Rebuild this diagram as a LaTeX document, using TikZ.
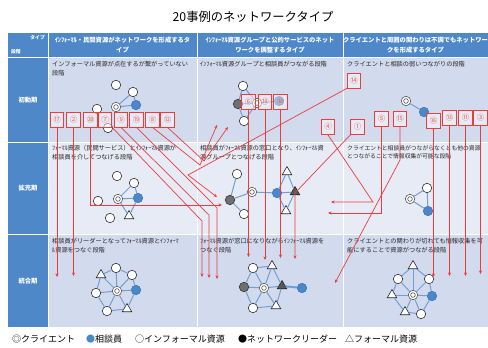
\documentclass[tikz,border=0pt]{standalone}
\usepackage{fontspec}
\setmainfont{Noto Sans CJK JP}
\usetikzlibrary{arrows.meta,shapes.geometric}
\definecolor{hdr}{HTML}{4F88C8}
\definecolor{rowA}{HTML}{D2DBEE}
\definecolor{rowB}{HTML}{E7EBF5}
\definecolor{edgeblue}{HTML}{6E9FD8}
\definecolor{cblue}{HTML}{4A88CC}
\definecolor{rline}{HTML}{EE3B3B}
\definecolor{ldr}{HTML}{707070}
\newcommand\cellf{\fontsize{6.2}{8.8}\selectfont}
\newcommand\hdrf{\fontsize{6.3}{9.5}\selectfont\bfseries}
\newcommand\legf{\fontsize{9}{10}\selectfont}
\tikzset{
 inf/.style={circle,draw=black!80,fill=white,line width=0.6pt,minimum size=9.5pt,inner sep=0pt},
 cli/.style={circle,draw=black!65,fill=white,line width=0.6pt,minimum size=9.5pt,inner sep=0pt,
   path picture={\draw[black!65,line width=0.6pt] (path picture bounding box.center) circle (2.3pt);}},
 csl/.style={circle,draw=cblue!80!black,fill=cblue,line width=0.5pt,minimum size=9.5pt,inner sep=0pt},
 ldrn/.style={circle,draw=black!80,fill=ldr,line width=0.6pt,minimum size=9.5pt,inner sep=0pt},
 frm/.style={regular polygon,regular polygon sides=3,draw=black!85,fill=white,line width=0.6pt,minimum size=11pt,inner sep=0pt},
 frmd/.style={frm,fill=black!65},
 eb/.style={draw=edgeblue,line width=1pt},
 ebt/.style={draw=edgeblue,line width=2pt},
 rbox/.style={draw=rline,line width=0.8pt,minimum width=13.5pt,minimum height=15pt,inner sep=0pt,
   fill=white,fill opacity=0.45,text opacity=1,text=rline!85,font=\fontsize{7.5}{8}\selectfont},
 ra/.style={draw=rline,line width=0.7pt,-{Stealth[length=3.5pt,width=3pt]}},
 cellt/.style={anchor=north west,align=left,font=\cellf,text=black!85,inner sep=0pt},
 hdrt/.style={align=center,font=\hdrf,text=white,inner sep=0pt},
 stg/.style={font=\fontsize{6.3}{7}\selectfont\bfseries,text=white,inner sep=0pt}
}
\begin{document}
\begin{tikzpicture}[x=1pt,y=-1pt]
\useasboundingbox (0,0) rectangle (488,348);
\fill[white] (0,0) rectangle (488,348);
% title
\node[font=\fontsize{12.3}{13}\selectfont,inner sep=0pt] (title) at (253,17) {20事例のネットワークタイプ};
% table fills
\fill[hdr] (8,33) rectangle (488,57);
\fill[hdr] (8,57) rectangle (48,327);
\fill[rowA] (48,57) rectangle (488,142);
\fill[rowB] (48,142) rectangle (488,234);
\fill[rowA] (48,234) rectangle (488,327);
\foreach \xx in {48,197,343} {\draw[white,line width=1pt] (\xx,33) -- (\xx,327);}
\foreach \yy in {57,142,234} {\draw[white,line width=1pt] (8,\yy) -- (488,\yy);}
% header texts
\node[font=\fontsize{4.8}{5}\selectfont\bfseries,text=white,anchor=east,inner sep=0pt] (h0a) at (45,38) {タイプ};
\node[font=\fontsize{4.8}{5}\selectfont\bfseries,text=white,anchor=west,inner sep=0pt] (h0b) at (11,52) {段階};
\node[hdrt] (h1) at (122.5,45) {ｲﾝﾌｫｰﾏﾙ・民間資源がネットワークを形成するタ\\イプ};
\node[hdrt] (h2) at (270,45) {ｲﾝﾌｫｰﾏﾙ資源グループと公的サービスのネット\\ワークを調整するタイプ};
\node[hdrt] (h3) at (415.5,45) {クライエントと周囲の関わりは不調でもネットワー\\クを形成するタイプ};
% stage labels
\node[stg] (s1) at (28,100) {初動期};
\node[stg] (s2) at (28,188) {拡充期};
\node[stg] (s3) at (28,281) {統合期};
% cell texts
\node[cellt] (t11) at (52,61) {インフォーマル資源が点在するが繋がっていない\\段階};
\node[cellt] (t12) at (200,61) {ｲﾝﾌｫｰﾏﾙ資源グループと相談員がつながる段階};
\node[cellt] (t13) at (347,61) {クライエントと相談の弱いつながりの段階};
\node[cellt] (t21) at (52,145) {ﾌｫｰﾏﾙ資源（民間サービス）とｲﾝﾌｫｰﾏﾙ資源が\\相談員を介してつなげる段階};
\node[cellt] (t22) at (200,145) {相談員がﾌｫｰﾏﾙ資源の窓口となり、ｲﾝﾌｫｰﾏﾙ資\\源グループとつなげる段階};
\node[cellt,font=\fontsize{5.8}{8.8}\selectfont] (t23) at (347,145) {クライエントと相談員がつながらなくとも他の資源\\とつながることで情報収集が可能な段階};
\node[cellt] (t31) at (52,238) {相談員がリーダーとなってﾌｫｰﾏﾙ資源とｲﾝﾌｫｰﾏ\\ﾙ資源をつなぐ段階};
\node[cellt] (t32) at (200,238) {ﾌｫｰﾏﾙ資源が窓口になりながらｲﾝﾌｫｰﾏﾙ資源を\\つなぐ段階};
\node[cellt] (t33) at (347,238) {クライエントとの関わりが切れても情報収集を可\\能にすることで資源がつながる段階};
% ---- networks ----
% R1C1
\node[inf] (a1) at (116,85) {};
\node[inf] (a2) at (133,92) {};
\node[cli] (a3) at (116,107) {};
\node[csl] (a4) at (136,105) {};
\node[inf] (a5) at (97,109) {};
\node[inf] (a6) at (108,128) {};
\draw[eb] (a2) -- (a3); \draw[eb] (a2) -- (a4); \draw[eb] (a3) -- (a4);
% R1C2
\node[inf] (b1) at (243,86) {};
\node[ldrn] (b2) at (238,104) {};
\node[inf] (b3) at (244,121) {};
\node[cli] (b4) at (257,103) {};
\node[csl] (b5) at (279,101) {};
\draw[eb] (b1) -- (b2); \draw[eb] (b2) -- (b3); \draw[eb] (b1) -- (b4);
\draw[eb] (b3) -- (b4); \draw[eb] (b2) -- (b4); \draw[eb] (b4) -- (b5);
% R1C3
\node[cli] (c1) at (406,101) {};
\node[csl] (c2) at (424,112) {};
\draw[eb] (c1) -- (c2);
% R2C1
\node[inf] (d1) at (117,176) {};
\node[inf] (d2) at (134,183) {};
\node[inf] (d3) at (98,201) {};
\node[cli] (d4) at (118,199) {};
\node[csl] (d5) at (138,198) {};
\node[inf] (d6) at (110,218) {};
\node[frm] (d7) at (129,216) {};
\draw[eb] (d4) -- (d2); \draw[eb] (d2) -- (d5); \draw[eb] (d4) -- (d5);
\draw[eb] (d4) -- (d7); \draw[eb] (d5) -- (d7);
% R2C2
\node[inf] (e1) at (237,174) {};
\node[ldrn] (e2) at (230,200) {};
\node[cli] (e3) at (252,192) {};
\node[inf] (e4) at (244,214) {};
\node[csl] (e5) at (277,193) {};
\node[frm] (e6) at (287,172) {};
\node[frmd] (e7) at (295,192) {};
\node[frm] (e8) at (286,211) {};
\draw[eb] (e1) -- (e2); \draw[eb] (e2) -- (e4); \draw[eb] (e2) -- (e3);
\draw[eb] (e3) -- (e5); \draw[eb] (e5) -- (e6); \draw[eb] (e5) -- (e7);
\draw[eb] (e5) -- (e8); \draw[eb] (e6) -- (e7); \draw[eb] (e7) -- (e8);
% R2C3
\node[cli] (f1) at (410,199) {};
\node[inf] (f2) at (427,188) {};
\node[csl] (f3) at (428,211) {};
\draw[eb] (f1) -- (f2); \draw[eb] (f1) -- (f3); \draw[eb] (f2) -- (f3);
% R3C1
\node[cli] (g0) at (117,291) {};
\node[inf] (g1) at (116,268) {};
\node[inf] (g2) at (132,275) {};
\node[csl] (g3) at (136,290) {};
\node[frm] (g4) at (127,309) {};
\node[inf] (g5) at (107,311) {};
\node[inf] (g6) at (96,293) {};
\node[frm] (g7) at (101,275) {};
\foreach \i/\j in {1/2,2/3,3/4,4/5,5/6,6/7,7/1} {\draw[eb] (g\i) -- (g\j);}
\foreach \i in {1,...,7} {\draw[eb] (g0) -- (g\i);}
% R3C2
\node[cli] (h0) at (264,288) {};
\node[inf] (hh1) at (253,268) {};
\node[frm] (hh2) at (272,266) {};
\node[frmd] (hh3) at (282,286) {};
\node[frm] (hh4) at (276,306) {};
\node[inf] (hh5) at (253,308) {};
\node[ldrn] (hh6) at (244,287) {};
\node[csl] (hh7) at (302,288) {};
\foreach \i/\j in {1/2,2/3,3/4,4/5,5/6,6/1} {\draw[eb] (hh\i) -- (hh\j);}
\foreach \i in {1,...,6} {\draw[eb] (h0) -- (hh\i);}
\draw[ebt] (hh3) -- (hh7);
% R3C3
\node[cli] (k0) at (413,295) {};
\node[frm] (k1) at (413,266) {};
\node[inf] (k2) at (429,279) {};
\node[csl] (k3) at (432,296) {};
\node[inf] (k4) at (421,314) {};
\node[frm] (k5) at (405,312) {};
\node[frm] (k6) at (392,295) {};
\node[inf] (k7) at (398,279) {};
\foreach \i/\j in {1/2,2/3,3/4,4/5,5/6,6/7,7/1} {\draw[eb] (k\i) -- (k\j);}
\foreach \i in {1,...,7} {\draw[eb] (k0) -- (k\i);}
% ---- red annotation boxes ----
\node[rbox] (n17) at (57,119.5) {⑰};
\node[rbox] (n2) at (73.5,119.5) {②};
\node[rbox] (n20) at (90.5,119.5) {⑳};
\node[rbox] (n7) at (105,119.5) {⑦};
\node[rbox] (n9) at (121,119.5) {⑨};
\node[rbox] (n19) at (136.5,119.5) {⑲};
\node[rbox] (n8) at (152.5,119.5) {⑧};
\node[rbox] (n12) at (167.5,119.5) {⑫};
\node[rbox] (n6) at (248.5,102) {⑥};
\node[rbox] (n10) at (265,102) {⑩};
\node[rbox] (n18) at (280.5,102) {⑱};
\node[rbox] (n4) at (328,127) {④};
\node[rbox] (n14) at (354,80.5) {⑭};
\node[rbox] (n1) at (357.5,127) {①};
\node[rbox] (n5) at (381.5,119) {⑤};
\node[rbox] (n15) at (400,119) {⑮};
\node[rbox] (n16) at (433.5,121) {⑯};
\node[rbox] (n13) at (449.5,117.5) {⑬};
\node[rbox] (n11) at (465.5,117.5) {⑪};
\node[rbox] (n3) at (480.5,117.5) {③};
% ---- red connectors ----
\coordinate (z17) at (57,277);
\coordinate (z2) at (73.5,276);
\coordinate (b20) at (90.5,205); \coordinate (z20) at (222,205);
\coordinate (b7) at (202,221); \coordinate (z7) at (202,277);
\coordinate (b9) at (209,215); \coordinate (z9) at (209,278);
\coordinate (b19) at (217,208); \coordinate (z19) at (217,279);
\coordinate (b8) at (200,165); \coordinate (z8) at (217,125);
\coordinate (b12) at (204,161); \coordinate (z12) at (228,127);
\coordinate (z6) at (248.5,257);
\coordinate (z10) at (265,260);
\coordinate (z18) at (280.5,258);
\coordinate (b14) at (188,175); \coordinate (z14) at (217,197);
\coordinate (b4) at (373,202); \coordinate (z4) at (331,202);
\coordinate (b1) at (295,193); \coordinate (z1) at (295,259);
\coordinate (b5) at (381.5,213); \coordinate (z5) at (328,213);
\coordinate (b15) at (400,160); \coordinate (z15) at (335,283);
\coordinate (z16) at (433.5,277);
\coordinate (z13) at (449.5,276);
\coordinate (z11) at (465.5,276);
\coordinate (z3) at (480.5,274);
\draw[ra] (n17.south) -- (z17);
\draw[ra] (n2.south) -- (z2);
\draw[ra] (n20.south) -- (b20) -- (z20);
\draw[ra] (n7.south east) -- (b7) -- (z7);
\draw[ra] (n9.south) -- (b9) -- (z9);
\draw[ra] (n19.south) -- (b19) -- (z19);
\draw[ra] (n8.south) -- (b8) -- (z8);
\draw[ra] (n12.south) -- (b12) -- (z12);
\draw[ra] (n6.south) -- (z6);
\draw[ra] (n10.south) -- (z10);
\draw[ra] (n18.south) -- (z18);
\draw[ra] (n14.south west) -- (b14) -- (z14);
\draw[ra] (n4.south) -- (b4) -- (z4);
\draw[ra] (n1.south west) -- (b1) -- (z1);
\draw[ra] (n5.south) -- (b5) -- (z5);
\draw[ra] (n15.south) -- (b15) -- (z15);
\draw[ra] (n16.south) -- (z16);
\draw[ra] (n13.south) -- (z13);
\draw[ra] (n11.south) -- (z11);
\draw[ra] (n3.south) -- (z3);
% ---- legend ----
\node[anchor=west,font=\legf,inner sep=0pt] (lg1) at (12,339) {◎クライエント};
\node[anchor=west,font=\legf,inner sep=0pt] (lg2) at (86,339) {\textcolor{cblue}{●}相談員};
\node[anchor=west,font=\legf,inner sep=0pt] (lg3) at (135,339) {○インフォーマル資源};
\node[anchor=west,font=\legf,inner sep=0pt] (lg4) at (238,339) {●ネットワークリーダー};
\node[anchor=west,font=\legf,inner sep=0pt] (lg5) at (345,339) {△フォーマル資源};
\end{tikzpicture}
\end{document}
